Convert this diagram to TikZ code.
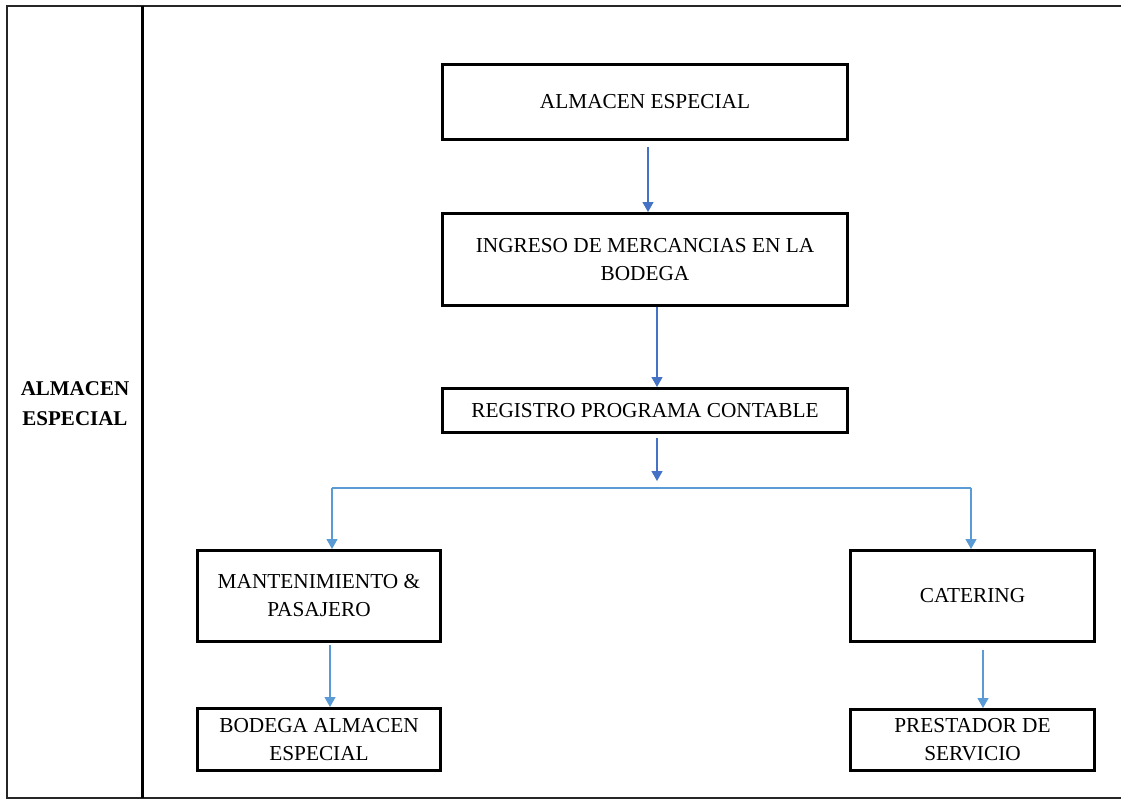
\documentclass[tikz,border=0pt]{standalone}
\usepackage{fontspec}
\setmainfont{Liberation Serif}
\usetikzlibrary{arrows.meta}
\definecolor{darkblue}{HTML}{4472C4}
\definecolor{lightblue}{HTML}{5B9BD5}
\tikzset{
  box/.style={draw=black, line width=3pt, align=center, inner sep=0pt,
    font=\fontsize{21.3}{28}\selectfont},
  arrdark/.style={draw=darkblue, line width=1.2pt, -{Triangle[length=10pt,width=11pt]}},
  arrlight/.style={draw=lightblue, line width=1.2pt, -{Triangle[length=10pt,width=11pt]}},
  branch/.style={draw=lightblue, line width=1.2pt},
}
\begin{document}
\begin{tikzpicture}[x=1pt,y=-1pt]
\useasboundingbox (0,0) rectangle (1121,800);
% frame
\coordinate (ftr) at (1121,6);
\coordinate (ftl) at (7,6);
\coordinate (fbl) at (7,798);
\coordinate (fbr) at (1121,798);
\draw[black!85, line width=1.5pt] (ftr) -- (ftl) -- (fbl) -- (fbr);
\coordinate (dtop) at (142,6);
\coordinate (dbot) at (142,798);
\draw[black, line width=3pt] (dtop) -- (dbot);
\node[font=\bfseries\fontsize{21}{30}\selectfont, align=center] (lbl) at (75,404) {ALMACEN\\ESPECIAL};
% boxes
\node[box, minimum width=405pt, minimum height=75pt] (b1) at (645,102) {ALMACEN ESPECIAL};
\node[box, minimum width=405pt, minimum height=92pt] (b2) at (645,259.5) {INGRESO DE MERCANCIAS EN LA\\BODEGA};
\node[box, minimum width=405pt, minimum height=44pt] (b3) at (645,410.5) {REGISTRO PROGRAMA CONTABLE};
\node[box, minimum width=243pt, minimum height=91pt] (b4) at (319,596) {MANTENIMIENTO \&\\PASAJERO};
\node[box, minimum width=244pt, minimum height=91pt] (b5) at (972.5,596) {CATERING};
\node[box, minimum width=243pt, minimum height=62pt] (b6) at (319,739.5) {BODEGA ALMACEN\\ESPECIAL};
\node[box, minimum width=244pt, minimum height=61pt] (b7) at (972.5,740) {PRESTADOR DE\\SERVICIO};
% connectors
\coordinate (a1s) at (648,147);
\draw[arrdark] (a1s) -- (a1s |- b2.north);
\coordinate (a2s) at (657,307);
\draw[arrdark] (a2s) -- (a2s |- b3.north);
\coordinate (a3s) at (657,438);
\coordinate (a3e) at (657,481);
\draw[arrdark] (a3s) -- (a3e);
\coordinate (brl) at (332,488);
\coordinate (brr) at (971,488);
\draw[branch] (brl) -- (brr);
\draw[arrlight] (brl) -- (brl |- b4.north);
\draw[arrlight] (brr) -- (brr |- b5.north);
\coordinate (a4s) at (330,645);
\draw[arrlight] (a4s) -- (a4s |- b6.north);
\coordinate (a5s) at (983,650);
\draw[arrlight] (a5s) -- (a5s |- b7.north);
\end{tikzpicture}
\end{document}
